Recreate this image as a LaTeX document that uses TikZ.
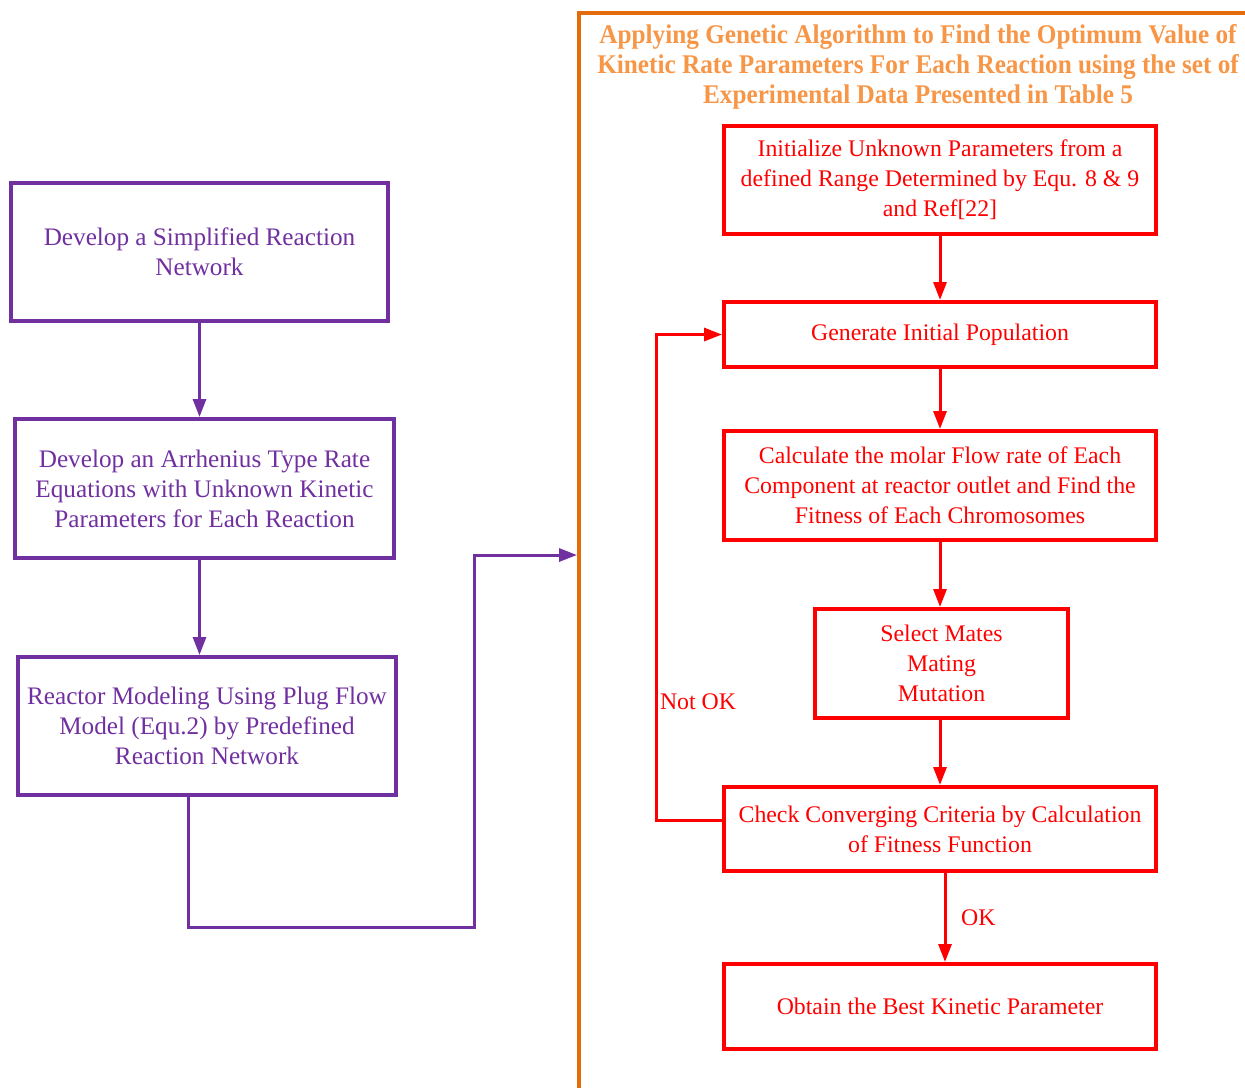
\documentclass[tikz,border=0pt]{standalone}
\usepackage{fontspec}
\setmainfont{Liberation Serif}
\newfontfamily\titlefont[FakeStretch=0.935]{Liberation Serif}
\usetikzlibrary{arrows.meta,positioning}

\definecolor{netpurple}{HTML}{7030A0}
\definecolor{gared}{HTML}{FF0000}
\definecolor{frameorange}{HTML}{E46C0A}
\definecolor{titleorange}{HTML}{F79646}

\tikzset{
	flowpicture/.style = {
		x = 0.5pt,
		y = -0.5pt,
		font = \fontsize{11.9}{15}\selectfont,
		arrow/.style = {
			draw,
			line width = 1.5pt,
			-{Triangle[length=9pt, width=6.5pt]},
		}
	},
	stepnode/.style = {
		draw,
		line width = 2pt,
		align = center,
		inner sep = 0pt
	},
	net/.style = {
		text = netpurple,
		draw = netpurple,
		font = \fontsize{12.6}{15}\selectfont
	},
	net-arrow/.style = {
		draw = netpurple
	},
	ga/.style = {
		text = gared,
		draw = gared
	},
	ga-arrow/.style = {
		draw = gared
	}
}

\begin{document}
\begin{tikzpicture}[flowpicture]
	\useasboundingbox (0,0) rectangle (1245,1088);

	% left column
	\node[stepnode, net, minimum width = 188.5pt, minimum height = 69pt] (simplify) at (199.5,252)
		{Develop a Simplified Reaction\\Network};
	\node[stepnode, net, minimum width = 189.5pt, minimum height = 69.5pt] (arrhenius) at (204.5,488.5)
		{Develop an Arrhenius Type Rate\\Equations with Unknown Kinetic\\Parameters for Each Reaction};
	\node[stepnode, net, minimum width = 189pt, minimum height = 69pt] (reactor) at (207,726)
		{Reactor Modeling Using Plug Flow\\Model (Equ.2) by Predefined\\Reaction Network};

	% genetic algorithm frame
	\draw[frameorange, line width = 2pt] (579,1088) -- (579,13) -- (1245,13);
	\node[text = titleorange, align = center, font = \titlefont\bfseries\fontsize{13.5}{15}\selectfont] (title) at (918,67)
		{Applying Genetic Algorithm to Find the Optimum Value of\\Kinetic Rate Parameters For Each Reaction using the set of\\Experimental Data Presented in Table 5};

	\node[stepnode, ga, minimum width = 216pt, minimum height = 54pt] (init) at (940,180)
		{Initialize Unknown Parameters from a\\defined Range Determined by Equ. 8 \& 9\\and Ref[22]};
	\node[stepnode, ga, minimum width = 216pt, minimum height = 32.5pt] (generate) at (940,334.5)
		{Generate Initial Population};
	\node[stepnode, ga, minimum width = 216pt, minimum height = 54.5pt] (fitness) at (940,485.5)
		{Calculate the molar Flow rate of Each\\Component at reactor outlet and Find the\\Fitness of Each Chromosomes};
	\node[stepnode, ga, minimum width = 126.5pt, minimum height = 54.5pt] (select) at (941.5,663.5)
		{Select Mates\\Mating\\Mutation};
	\node[stepnode, ga, minimum width = 216pt, minimum height = 42pt] (check) at (940,829)
		{Check Converging Criteria by Calculation\\of Fitness Function};
	\node[stepnode, ga, minimum width = 216pt, minimum height = 42.5pt] (best) at (940,1006.5)
		{Obtain the Best Kinetic Parameter};

	\node[text = gared] (notok) at (698,702) {Not OK};

	\coordinate (turn) at (188,927);
	\coordinate (low) at (474,927);
	\coordinate (framein) at (577,555);
	\coordinate (loopcorner) at (656,334.5);

	\begin{scope}[every path/.style = arrow]
		\path[net-arrow] (simplify) -- (simplify.south |- arrhenius.north);
		\path[net-arrow] (arrhenius.south -| simplify) -- (reactor.north -| simplify);
		\path[net-arrow] (reactor.south -| turn) |- (low) |- (framein);

		\path[ga-arrow] (init) -- (generate);
		\path[ga-arrow] (generate) -- (fitness);
		\path[ga-arrow] (fitness.south) -- (fitness.south |- select.north);
		\path[ga-arrow] (select.south -| fitness) -- (check);
		\path[ga-arrow] ([xshift = 2.5pt]check.south) -- ([xshift = 2.5pt]check.south |- best.north)
			node[midway, right, text = gared, xshift = 4pt] {OK};
		\path[ga-arrow] ([yshift = 4.5pt]check.west) -| (loopcorner) -- (generate.west);
	\end{scope}
\end{tikzpicture}
\end{document}
